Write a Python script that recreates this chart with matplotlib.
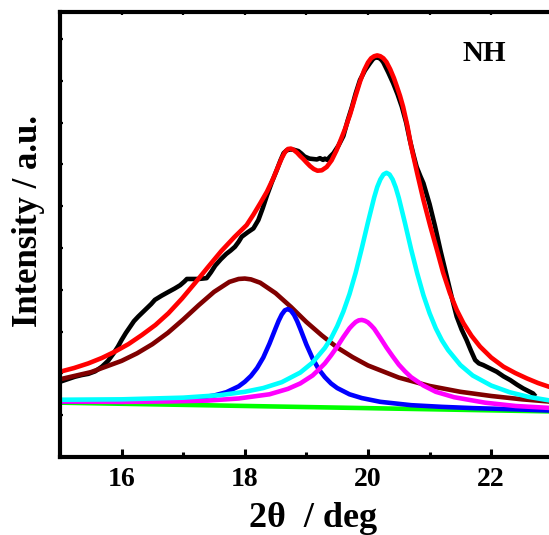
import matplotlib
matplotlib.use("Agg")
import matplotlib.pyplot as plt
from matplotlib.ticker import FixedLocator, NullFormatter

plt.rcParams['font.family'] = ['Liberation Serif', 'DejaVu Serif']
plt.rcParams['font.weight'] = 'bold'

# Measured XRD pattern
exp_x = [15.00, 15.12, 15.24, 15.35, 15.46, 15.57, 15.68, 15.78, 15.87, 15.94, 16.00, 16.07,
         16.14, 16.20, 16.27, 16.34, 16.41, 16.48, 16.54, 16.65, 16.76, 16.86, 16.95, 17.02,
         17.06, 17.15, 17.25, 17.32, 17.38, 17.45, 17.52, 17.61, 17.70, 17.77, 17.84, 17.90,
         17.95, 18.05, 18.14, 18.22, 18.29, 18.36, 18.44, 18.52, 18.58, 18.63, 18.68, 18.74,
         18.80, 18.87, 18.92, 18.97, 19.05, 19.11, 19.17, 19.22, 19.27, 19.30, 19.34, 19.38,
         19.44, 19.52, 19.60, 19.67, 19.74, 19.80, 19.87, 19.95, 20.03, 20.08, 20.12, 20.18,
         20.22, 20.25, 20.33, 20.41, 20.48, 20.55, 20.62, 20.68, 20.74, 20.79, 20.85, 20.90,
         21.00, 21.09, 21.18, 21.28, 21.36, 21.44, 21.52, 21.60, 21.67, 21.74, 21.80, 21.87,
         21.98, 22.09, 22.20, 22.31, 22.42, 22.52, 22.60, 22.68, 22.72]
exp_y = [1.80, 1.86, 1.92, 1.96, 1.99, 2.05, 2.16, 2.30, 2.48, 2.64, 2.80, 2.97,
         3.12, 3.25, 3.36, 3.46, 3.56, 3.66, 3.76, 3.86, 3.95, 4.03, 4.11, 4.20,
         4.26, 4.26, 4.26, 4.27, 4.28, 4.42, 4.58, 4.73, 4.86, 4.94, 5.03, 5.15,
         5.27, 5.38, 5.47, 5.67, 5.95, 6.26, 6.58, 6.87, 7.10, 7.27, 7.34, 7.36,
         7.35, 7.32, 7.26, 7.19, 7.14, 7.13, 7.12, 7.15, 7.11, 7.14, 7.11, 7.18,
         7.27, 7.45, 7.68, 8.05, 8.38, 8.70, 9.02, 9.25, 9.42, 9.52, 9.56, 9.55,
         9.50, 9.44, 9.20, 8.94, 8.68, 8.38, 8.00, 7.58, 7.22, 6.94, 6.72, 6.55,
         6.05, 5.51, 4.92, 4.31, 3.82, 3.36, 3.05, 2.80, 2.55, 2.32, 2.24, 2.20,
         2.12, 2.04, 1.93, 1.84, 1.73, 1.64, 1.58, 1.52, 1.45]

# Cumulative fit
fit_x = [15.00, 15.23, 15.46, 15.68, 15.89, 16.11, 16.33, 16.55, 16.76, 16.98, 17.19, 17.40,
         17.62, 17.83, 18.03, 18.14, 18.25, 18.36, 18.46, 18.55, 18.60, 18.65, 18.70, 18.75,
         18.80, 18.85, 18.90, 18.95, 19.00, 19.06, 19.12, 19.18, 19.25, 19.33, 19.41, 19.49,
         19.55, 19.63, 19.71, 19.79, 19.87, 19.94, 20.00, 20.05, 20.10, 20.15, 20.20, 20.25,
         20.30, 20.36, 20.42, 20.47, 20.52, 20.57, 20.64, 20.70, 20.80, 20.90, 21.01, 21.12,
         21.22, 21.33, 21.44, 21.55, 21.68, 21.82, 22.00, 22.20, 22.39, 22.58, 22.76, 22.94,
         23.00]
fit_y = [2.04, 2.13, 2.24, 2.37, 2.52, 2.70, 2.92, 3.16, 3.44, 3.79, 4.16, 4.54,
         4.93, 5.26, 5.55, 5.80, 6.07, 6.35, 6.66, 6.98, 7.15, 7.29, 7.37, 7.38,
         7.34, 7.28, 7.20, 7.13, 7.05, 6.96, 6.89, 6.85, 6.86, 6.94, 7.10, 7.34,
         7.56, 7.86, 8.20, 8.60, 8.98, 9.26, 9.44, 9.54, 9.59, 9.61, 9.59, 9.54,
         9.45, 9.28, 9.07, 8.86, 8.64, 8.38, 7.92, 7.44, 6.78, 6.15, 5.53, 4.95,
         4.41, 3.92, 3.52, 3.20, 2.90, 2.64, 2.38, 2.16, 2.01, 1.88, 1.77, 1.68,
         1.66]

# Deconvoluted components
p1_x = [15.0, 15.5, 16.0, 16.25, 16.5, 16.75, 17.0, 17.25, 17.5, 17.75, 17.9, 18.0, 18.1,
        18.25, 18.5, 18.75, 19.0, 19.25, 19.5, 19.75, 20.0, 20.5, 21.0, 21.5, 22.0, 22.5, 23.0]
p1_y = [1.86, 2.03, 2.30, 2.48, 2.70, 2.97, 3.29, 3.63, 3.95, 4.19, 4.26, 4.27, 4.25,
        4.17, 3.92, 3.59, 3.23, 2.91, 2.62, 2.39, 2.19, 1.90, 1.70, 1.56, 1.46, 1.38, 1.32]

p2_x = [15.0, 16.0, 16.7, 17.2, 17.5, 17.7, 17.9, 18.0, 18.1, 18.2, 18.3, 18.4, 18.5, 18.55,
        18.6, 18.65, 18.7, 18.75, 18.8, 18.85, 18.9, 19.0, 19.1, 19.2, 19.3, 19.4, 19.5, 19.7,
        19.9, 20.2, 20.7, 21.2, 21.7, 22.4, 23.0]
p2_y = [1.33, 1.32, 1.35, 1.40, 1.47, 1.55, 1.69, 1.80, 1.94, 2.13, 2.38, 2.71, 3.08, 3.26,
        3.41, 3.51, 3.54, 3.50, 3.40, 3.25, 3.07, 2.69, 2.36, 2.10, 1.91, 1.76, 1.65, 1.50,
        1.41, 1.32, 1.24, 1.20, 1.17, 1.14, 1.11]

p3_x = [15.0, 16.0, 16.8, 17.4, 17.9, 18.4, 18.7, 18.9, 19.1, 19.2, 19.3, 19.4, 19.5, 19.6,
        19.7, 19.75, 19.8, 19.85, 19.9, 19.95, 20.0, 20.05, 20.1, 20.2, 20.3, 20.4, 20.5, 20.6,
        20.7, 20.9, 21.1, 21.4, 21.9, 22.4, 23.0]
p3_y = [1.33, 1.32, 1.33, 1.35, 1.40, 1.50, 1.63, 1.76, 1.95, 2.09, 2.24, 2.43, 2.64, 2.87,
        3.08, 3.16, 3.23, 3.27, 3.28, 3.26, 3.22, 3.15, 3.07, 2.85, 2.62, 2.41, 2.21, 2.05,
        1.91, 1.71, 1.56, 1.43, 1.30, 1.22, 1.17]

p4_x = [15.0, 16.0, 17.0, 17.6, 18.0, 18.3, 18.6, 18.9, 19.1, 19.3, 19.4, 19.5, 19.6, 19.7,
        19.8, 19.9, 20.0, 20.1, 20.15, 20.2, 20.25, 20.3, 20.35, 20.4, 20.45, 20.5, 20.6, 20.7,
        20.8, 20.9, 21.0, 21.1, 21.2, 21.3, 21.5, 21.7, 22.0, 22.3, 22.6, 23.0]
p4_y = [1.37, 1.38, 1.42, 1.48, 1.56, 1.65, 1.79, 2.02, 2.26, 2.61, 2.84, 3.13, 3.48, 3.90,
        4.41, 5.00, 5.62, 6.21, 6.46, 6.64, 6.76, 6.80, 6.76, 6.64, 6.45, 6.20, 5.60, 4.97,
        4.39, 3.87, 3.44, 3.08, 2.79, 2.56, 2.20, 1.95, 1.71, 1.55, 1.44, 1.34]

base_x = [15.0, 23.0]
base_y = [1.30, 1.09]

fig = plt.figure(figsize=(5.49, 5.35), dpi=100)
ax = fig.add_axes([0.1093, 0.1458, 0.8976, 0.8327])

lw = 3.3
kw = dict(solid_joinstyle='round', solid_capstyle='butt')
ax.plot(exp_x, exp_y, color='black', lw=lw, **kw)
ax.plot(fit_x, fit_y, color='#ff0000', lw=lw, **kw)
ax.plot(base_x, base_y, color='#00ff00', lw=lw, **kw)
ax.plot(p1_x, p1_y, color='#800000', lw=lw, **kw)
ax.plot(p2_x, p2_y, color='#0000ff', lw=lw, **kw)
ax.plot(p3_x, p3_y, color='#ff00ff', lw=lw, **kw)
ax.plot(p4_x, p4_y, color='#00ffff', lw=lw, **kw)

ax.set_xlim(15, 23)
ax.set_ylim(0, 10.66)

ax.xaxis.set_major_locator(FixedLocator([16, 18, 20, 22]))
ax.xaxis.set_minor_locator(FixedLocator([17, 19, 21]))
ax.yaxis.set_major_locator(FixedLocator([]))
ax.yaxis.set_minor_locator(FixedLocator(list(range(1, 11))))
ax.yaxis.set_major_formatter(NullFormatter())

ax.tick_params(axis='x', which='major', direction='in', length=6, width=2.2,
               labelsize=20, pad=7.5, top=False)
ax.tick_params(axis='x', which='minor', direction='in', length=3.5, width=2.2, top=False)
ax.tick_params(axis='y', which='minor', direction='in', length=2.5, width=1.6, right=False)

# small inward ticks along the top frame
top = ax.secondary_xaxis('top')
top.xaxis.set_major_locator(FixedLocator([16, 17, 18, 19, 20, 21, 22]))
top.tick_params(direction='in', length=2.5, width=1.6, labeltop=False)
top.spines['top'].set_visible(False)

for s in ['left', 'bottom', 'top']:
    ax.spines[s].set_linewidth(3.0)
ax.spines['right'].set_visible(False)

for lab in ax.get_xticklabels():
    lab.set_fontweight('bold')

ax.set_xlabel('2\u03b8  / deg', fontsize=26, fontweight='bold', va='center')
ax.xaxis.set_label_coords(0.514, -0.137)
ax.set_ylabel('Intensity / a.u.', fontsize=25, fontweight='bold', va='center')
ax.yaxis.set_label_coords(-0.063, 0.53)

ax.text(21.53, 9.48, 'NH', fontsize=21, fontweight='bold', ha='left', va='baseline')

fig.savefig('out.png', dpi=100)
